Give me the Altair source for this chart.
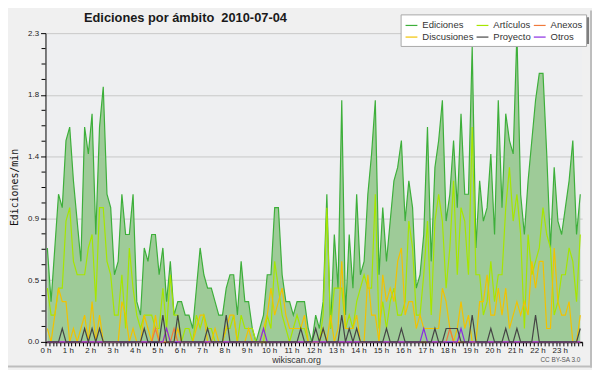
import altair as alt
import pandas as pd

# ---------------- data (10-minute slots, edits per minute) ----------------
ediciones = [
    0.7, 0.3, 0.7, 1.1, 1.0, 1.5, 1.6, 1.2, 0.9, 0.6, 1.6, 1.4, 1.7, 0.8, 1.6, 1.9, 1.1, 1.0, 0.5, 0.6, 1.1, 0.8, 0.8, 1.1,
    0.3, 0.2, 0.7, 0.6, 0.8, 0.8, 0.5, 0.7, 0.3, 0.6, 0.2, 0.3, 0.3, 0.2, 0.2, 0.1, 0.4, 0.7, 0.5, 0.4, 0.4, 0.3, 0.2, 0.2,
    0.4, 0.5, 0.5, 0.2, 0.6, 0.3, 0.3, 0.1, 0.0, 0.1, 0.2, 0.5, 0.5, 1.0, 1.0, 0.5, 0.3, 0.3, 0.2, 0.3, 0.3, 0.3, 0.1, 0.0,
    0.2, 0.1, 0.3, 1.1, 0.1, 0.8, 0.4, 1.8, 0.2, 0.8, 0.4, 1.1, 0.5, 0.6, 1.1, 1.4, 1.8, 0.5, 1.0, 0.6, 0.9, 1.2, 1.3, 1.5,
    0.9, 1.2, 1.0, 0.4, 0.5, 0.8, 1.6, 0.6, 1.3, 1.5, 1.8, 0.9, 1.1, 1.5, 1.0, 1.7, 1.1, 1.1, 2.2, 0.7, 1.2, 0.9, 1.0, 1.4,
    0.8, 1.8, 1.0, 1.7, 1.5, 1.4, 2.3, 1.1, 0.8, 1.2, 1.5, 1.8, 2.0, 2.0, 1.4, 0.7, 1.3, 0.9, 0.8, 1.0, 1.2, 1.5, 0.8, 1.1,
]
articulos = [
    0.4, 0.2, 0.2, 0.4, 0.4, 0.9, 1.0, 0.6, 0.5, 0.5, 0.5, 0.7, 0.8, 0.3, 1.0, 1.0, 0.6, 0.5, 0.2, 0.2, 0.5, 0.1, 0.7, 0.4,
    0.2, 0.1, 0.2, 0.2, 0.2, 0.1, 0.1, 0.4, 0.1, 0.5, 0.2, 0.2, 0.0, 0.1, 0.1, 0.0, 0.2, 0.1, 0.2, 0.1, 0.1, 0.0, 0.0, 0.0,
    0.1, 0.1, 0.2, 0.0, 0.2, 0.1, 0.1, 0.1, 0.0, 0.0, 0.0, 0.2, 0.1, 0.6, 0.4, 0.2, 0.1, 0.0, 0.1, 0.2, 0.1, 0.1, 0.0, 0.0,
    0.0, 0.0, 0.2, 1.0, 0.1, 0.4, 0.4, 0.4, 0.1, 0.2, 0.1, 0.3, 0.4, 0.5, 0.4, 0.4, 1.1, 0.1, 0.3, 0.1, 0.3, 0.4, 0.2, 0.2,
    0.3, 0.9, 0.7, 0.2, 0.2, 0.5, 0.9, 0.2, 0.9, 1.1, 0.9, 0.4, 0.7, 1.2, 0.5, 1.0, 0.9, 0.5, 1.6, 0.5, 0.5, 0.2, 0.3, 0.6,
    0.3, 0.5, 0.5, 1.0, 1.3, 0.9, 1.1, 0.8, 0.1, 0.8, 0.5, 0.6, 0.7, 1.0, 0.8, 0.7, 0.2, 0.3, 0.5, 0.5, 0.7, 0.6, 0.3, 0.8,
]
discusiones = [
    0.1, 0.0, 0.2, 0.4, 0.3, 0.3, 0.0, 0.1, 0.0, 0.1, 0.2, 0.0, 0.3, 0.0, 0.2, 0.0, 0.0, 0.0, 0.0, 0.0, 0.3, 0.2, 0.0, 0.1,
    0.0, 0.0, 0.2, 0.1, 0.0, 0.2, 0.0, 0.0, 0.1, 0.0, 0.0, 0.1, 0.0, 0.0, 0.0, 0.0, 0.1, 0.2, 0.2, 0.0, 0.0, 0.1, 0.0, 0.0,
    0.1, 0.2, 0.2, 0.0, 0.0, 0.0, 0.1, 0.0, 0.0, 0.0, 0.1, 0.2, 0.4, 0.2, 0.3, 0.4, 0.2, 0.1, 0.1, 0.1, 0.1, 0.2, 0.0, 0.0,
    0.0, 0.0, 0.1, 0.0, 0.2, 0.0, 0.1, 0.6, 0.1, 0.1, 0.1, 0.2, 0.0, 0.0, 0.5, 0.2, 0.2, 0.0, 0.5, 0.3, 0.4, 0.3, 0.6, 0.7,
    0.2, 0.3, 0.3, 0.1, 0.2, 0.1, 0.1, 0.1, 0.1, 0.1, 0.4, 0.3, 0.1, 0.0, 0.1, 0.3, 0.1, 0.2, 0.0, 0.0, 0.3, 0.3, 0.5, 0.2,
    0.2, 0.4, 0.2, 0.4, 0.1, 0.2, 0.3, 0.2, 0.3, 0.2, 0.6, 0.4, 0.6, 0.6, 0.1, 0.1, 0.7, 0.3, 0.2, 0.2, 0.3, 0.0, 0.0, 0.2,
]
# sparse series: slot index -> value (all other slots are 0)
anexos_spikes = {29: 0.1, 34: 0.1, 108: 0.1}
proyecto_spikes = {4: 0.1, 10: 0.1, 12: 0.1, 14: 0.1, 26: 0.1, 31: 0.2, 35: 0.2, 43: 0.1, 48: 0.2,
                   68: 0.1, 72: 0.1, 74: 0.1, 79: 0.2, 81: 0.1, 83: 0.1, 91: 0.1, 95: 0.1, 104: 0.1,
                   107: 0.1, 108: 0.1, 109: 0.1, 110: 0.1, 114: 0.2, 119: 0.1, 123: 0.1, 126: 0.1,
                   131: 0.2, 143: 0.1}
otros_spikes = {32: 0.1, 58: 0.1, 101: 0.1, 111: 0.1}

# legend order is column-major in a 3-column grid (reads row-wise as in the reference)
legend_order = ["Ediciones", "Discusiones", "Artículos", "Proyecto", "Anexos", "Otros"]
legend_colors = ["#3daf3a", "#f2c200", "#a6e600", "#454545", "#f07a3c", "#8a2be2"]
y_major = [0, 0.46, 0.92, 1.38, 1.84, 2.3]
y_minor = [0.115, 0.23, 0.345, 0.575, 0.69, 0.805, 1.035, 1.15, 1.265, 1.495, 1.61, 1.725,
           1.955, 2.07, 2.185]
titulo = "Ediciones por ámbito \u00a02010-07-04"
licencia_txt = "CC BY-SA 3.0"

# ---------------- tables ----------------
n = len(ediciones)
slots = list(range(n))
hora = [(s + 0.5) / 6 for s in slots]          # centre of each 10-minute slot, in hours
anexos = [anexos_spikes.get(s, 0.0) for s in slots]
proyecto = [proyecto_spikes.get(s, 0.0) for s in slots]
otros = [otros_spikes.get(s, 0.0) for s in slots]

wide = pd.DataFrame({"hora": hora, "Ediciones": ediciones})
draw_order = [("Ediciones", ediciones), ("Artículos", articulos), ("Discusiones", discusiones),
              ("Anexos", anexos), ("Otros", otros), ("Proyecto", proyecto)]
long_rows = []
for name, vals in draw_order:
    for h, v in zip(hora, vals):
        long_rows.append({"hora": h, "valor": v, "serie": name})
long = pd.DataFrame(long_rows)

x_ticks = [round(m / 6, 6) for m in range(0, 145)]

W, H = 544, 313
FONT = "Liberation Sans"

x_scale = alt.Scale(domain=[0, 24], nice=False, zero=False)
y_scale = alt.Scale(domain=[0, 2.3], nice=False, zero=True)

x_axis = alt.Axis(
    values=x_ticks,
    labelExpr="(abs(datum.value - round(datum.value)) < 0.001 && datum.value < 23.5) ? round(datum.value) + ' h' : ''",
    labelOverlap=False, labelFlush=False, labelFont=FONT, labelFontSize=8, labelColor="#222",
    labelPadding=1, tickSize=4, tickColor="#000", domainColor="#000", domainWidth=1.5,
    grid=False, title="wikiscan.org", titleFont=FONT, titleFontSize=9, titleFontWeight="normal",
    titleColor="#333", titleX=254, titleY=18, titleBaseline="middle",
)
y_axis = alt.Axis(
    values=y_major, format=".1f", labelFont=FONT, labelFontSize=8, labelColor="#222",
    labelPadding=2, tickSize=5, tickColor="#000", domainColor="#000", domainWidth=1,
    grid=True, gridColor="#c8c8c8", gridWidth=1,
    title="Ediciones/min", titleFont="DejaVu Sans Mono", titleFontSize=10, titleFontWeight="normal",
    titleColor="#111", titleX=-31, titleY=156, titleAngle=-90, titleBaseline="middle",
)


def xenc(field):
    return alt.X(field, scale=x_scale, axis=x_axis)


def yenc(field):
    return alt.Y(field, scale=y_scale, axis=y_axis)


area = alt.Chart(wide).mark_area(color="#9ecb98", opacity=1, interpolate="linear").encode(
    x=xenc("hora:Q"), y=yenc("Ediciones:Q"),
)

lines = alt.Chart(long).mark_line(strokeWidth=1.2, interpolate="linear").encode(
    x=xenc("hora:Q"),
    y=yenc("valor:Q"),
    color=alt.Color(
        "serie:N",
        sort=legend_order,
        scale=alt.Scale(domain=legend_order, range=legend_colors),
        legend=alt.Legend(
            title=None, orient="none", legendX=360, legendY=-19, columns=3, gridAlign="each",
            symbolType="stroke", symbolSize=144, symbolStrokeWidth=1.2,
            labelFont=FONT, labelFontSize=9.6, labelColor="#333", labelOffset=4,
            columnPadding=0, rowPadding=-2, padding=4,
            fillColor="#ffffff", strokeColor="#a8a8a8",
        ),
    ),
)

minor = alt.Chart(pd.DataFrame({"v": y_minor})).mark_rule(color="#000", strokeWidth=1).encode(
    y=yenc("v:Q"), x=alt.value(-4), x2=alt.value(0)
)

shadow = alt.Chart(pd.DataFrame({"a": [0]})).mark_rect(color="#7d7d7d").encode(
    x=alt.value(363), x2=alt.value(551), y=alt.value(-16), y2=alt.value(11)
)

# outer frame (right and bottom edges of the picture)
frame_r = alt.Chart(pd.DataFrame({"a": [0]})).mark_rule(color="#bdbdbd", strokeWidth=2).encode(
    x=alt.value(553), y=alt.value(-23), y2=alt.value(339)
)
frame_b = alt.Chart(pd.DataFrame({"a": [0]})).mark_rule(color="#bdbdbd", strokeWidth=2).encode(
    x=alt.value(-38), x2=alt.value(554), y=alt.value(338)
)

licencia = alt.Chart(pd.DataFrame({"t": [licencia_txt]})).mark_text(
    font=FONT, fontSize=6.5, color="#555", align="center", baseline="middle"
).encode(text="t:N", x=alt.value(522), y=alt.value(331))

titulo_mark = alt.Chart(pd.DataFrame({"t": [titulo]})).mark_text(
    font=FONT, fontSize=13, fontWeight="bold", color="#1a1a1a", align="left", baseline="alphabetic"
).encode(text="t:N", x=alt.value(39), y=alt.value(-11))

chart = alt.layer(area, lines, minor, shadow, frame_r, frame_b, licencia, titulo_mark).properties(
    width=W, height=H,
    background="#f0f0f0",
    padding={"left": 38, "top": 23, "right": 10, "bottom": 26},
    autosize=alt.AutoSizeParams(type="none"),
).configure_view(fill="#eeeff1", strokeWidth=0)

chart.save("out.html", embed_options={"renderer": "svg", "actions": False})
